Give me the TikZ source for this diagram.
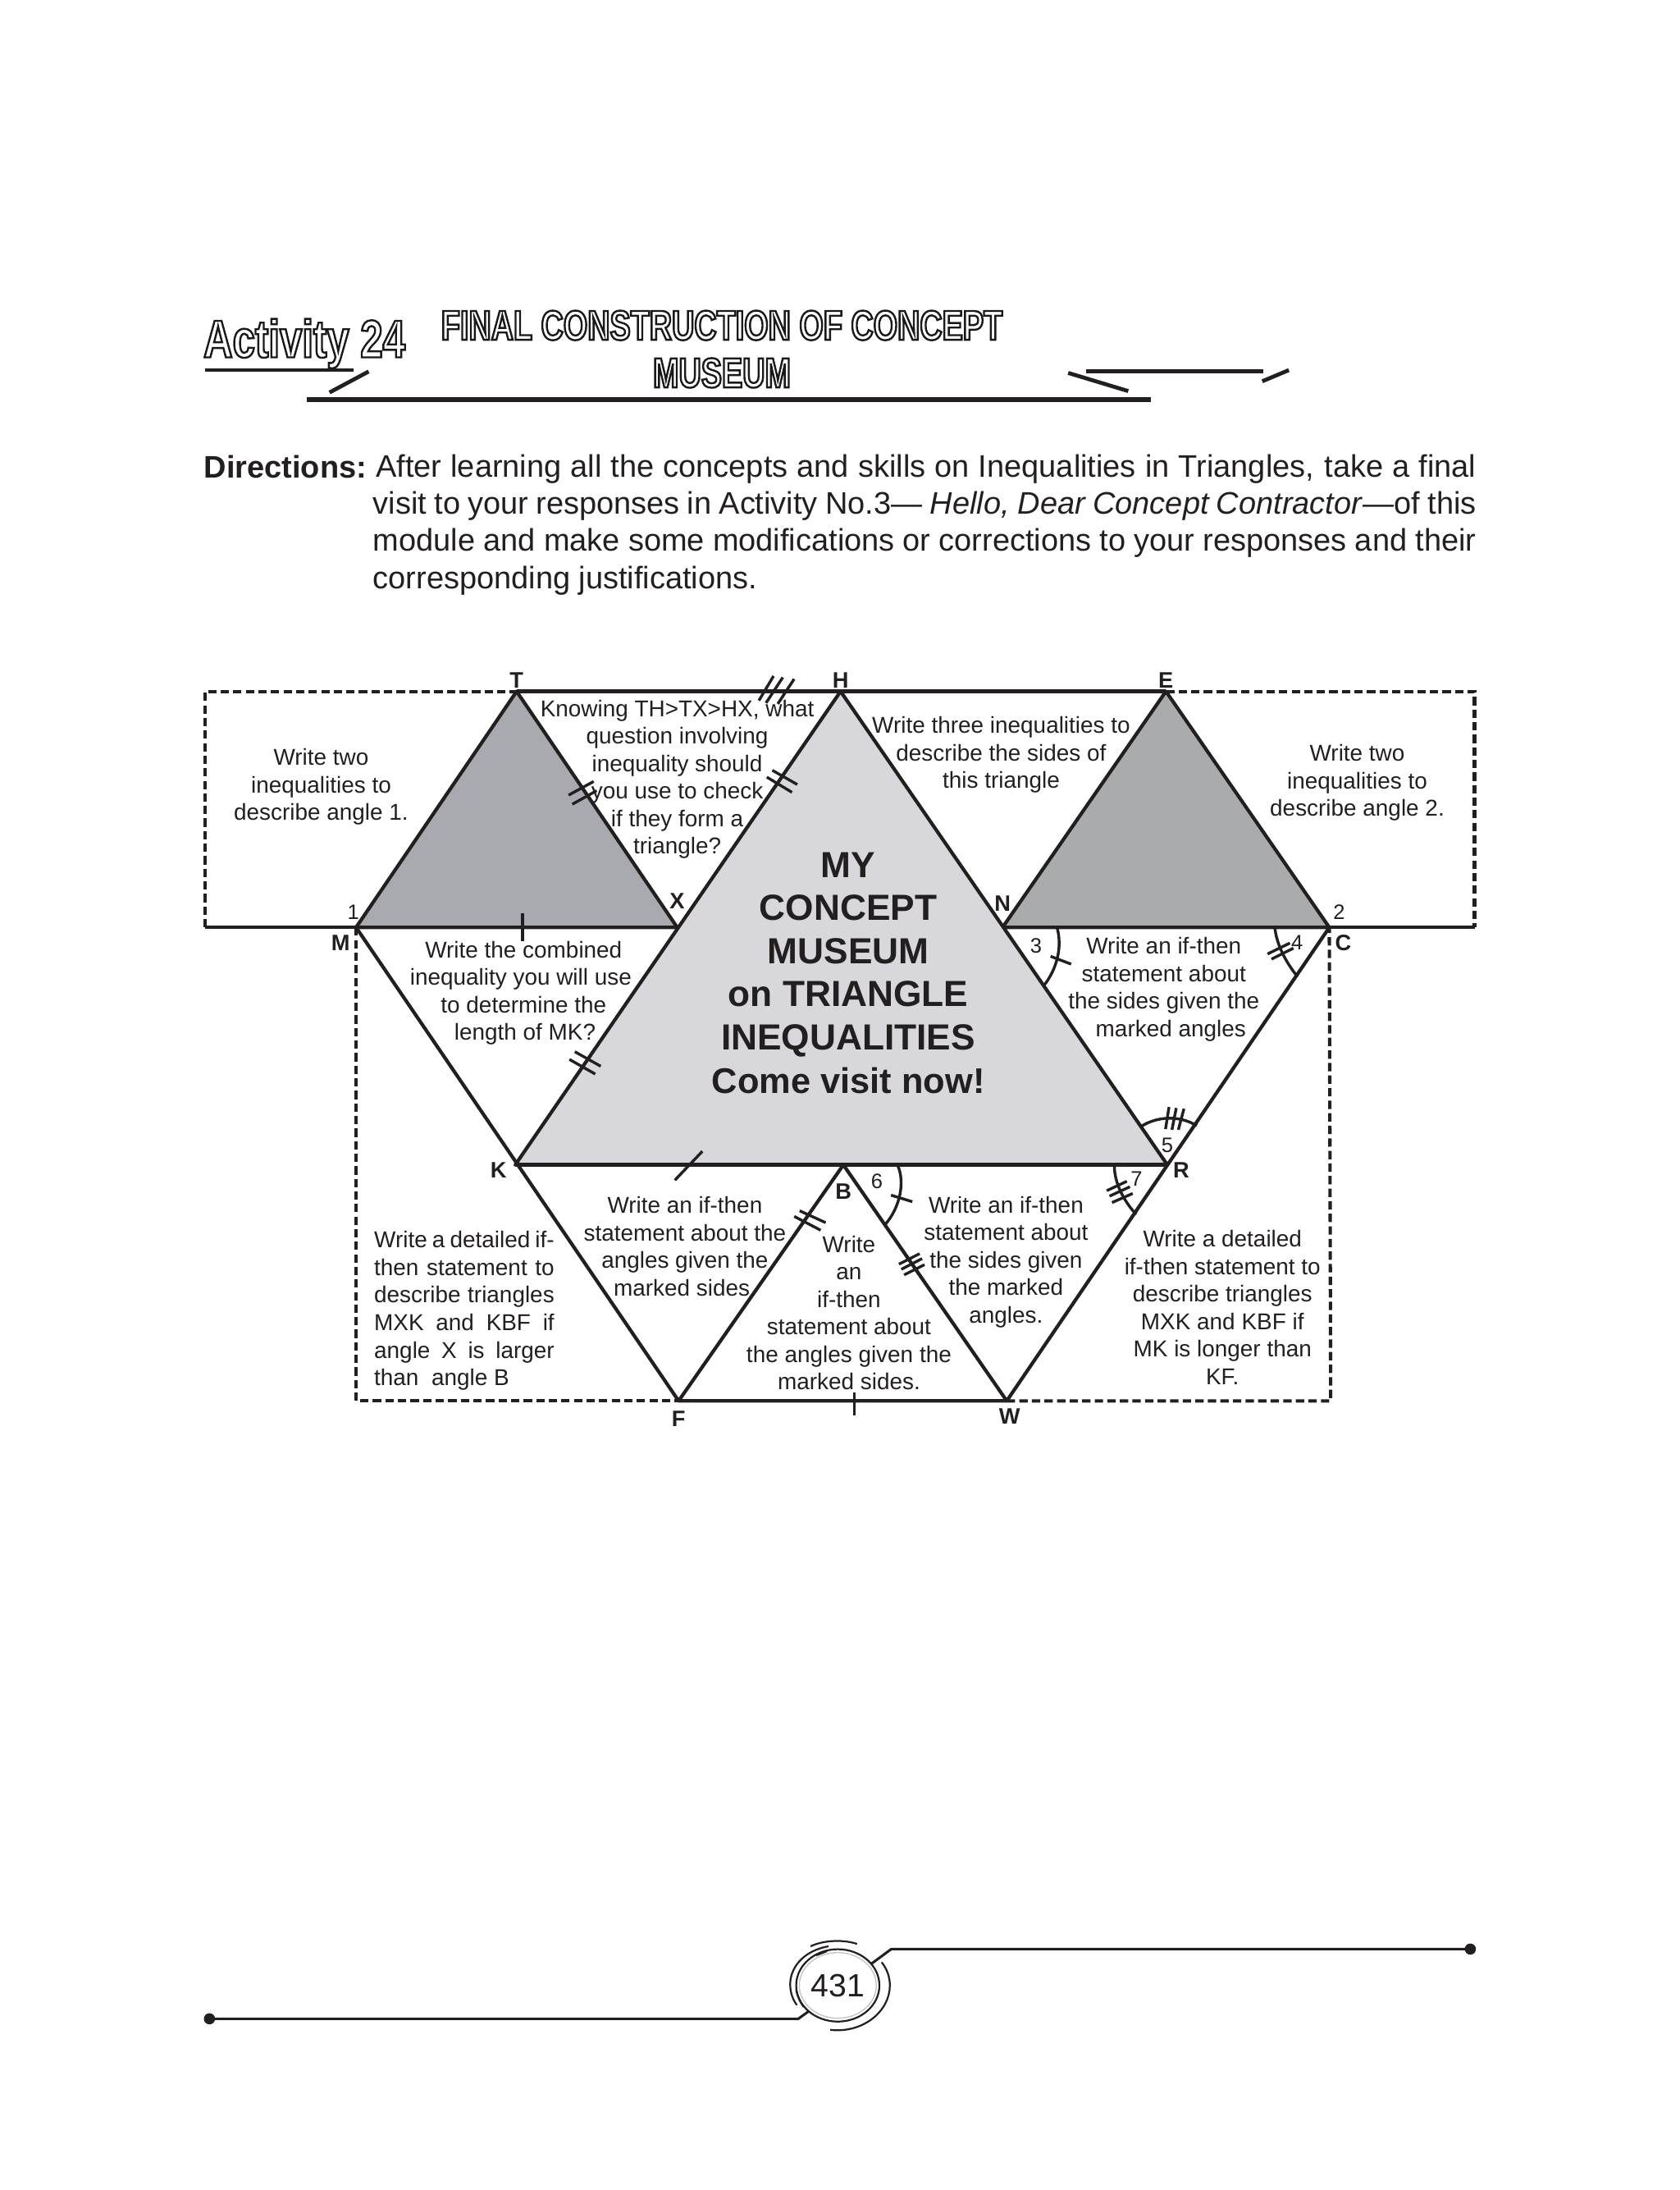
\documentclass[tikz,border=0pt]{standalone}
\usepackage{fontspec}
\usepackage{xcolor}
\setmainfont{Liberation Sans}
\newfontfamily\titlefont[FakeStretch=0.74]{Liberation Sans}
\newfontfamily\activityfont[FakeStretch=0.76]{Liberation Sans}
\usetikzlibrary{calc}
\definecolor{InkBlack}{HTML}{231F20}
\definecolor{LeftGray}{HTML}{A9A9B0}
\definecolor{RightGray}{HTML}{A9ABAD}
\definecolor{CenterGray}{HTML}{D7D7DC}
\definecolor{RingGray}{HTML}{C4C4C4}
\newcommand{\outlinetext}[1]{\special{pdf:code 2 Tr 1.4 w 1 1 1 rg 0.1 0.1 0.1 RG}#1\special{pdf:code 0 Tr 0.1 0.1 0.1 rg}}
\tikzset{
  edge/.style={line width=2.5pt, draw=InkBlack, line join=round},
  frame/.style={line width=2.4pt, draw=InkBlack, dash pattern=on 6pt off 3pt},
  tick/.style={line width=2pt, draw=InkBlack},
  anglemark/.style={line width=2pt, draw=InkBlack},
  rule/.style={line width=3.6pt, draw=InkBlack},
  thinrule/.style={line width=2.8pt, draw=InkBlack},
  ring/.style={line width=1.3pt, draw=InkBlack},
  prompt/.style={text=InkBlack, align=center, inner sep=0pt, font=\fontsize{16.4}{19.7}\selectfont},
  vertex/.style={text=InkBlack, inner sep=0pt, font=\fontsize{16}{18}\selectfont\bfseries},
  number/.style={text=InkBlack, inner sep=0pt, font=\fontsize{15}{18}\selectfont},
  heading/.style={inner sep=0pt, align=center, font=\titlefont\fontsize{30}{34}\selectfont\bfseries}
}
\begin{document}
\begin{tikzpicture}[x=1pt, y=-1pt]
\useasboundingbox[fill=white] (0,0) rectangle (1203,1568);

% vertices
\coordinate (T) at (370,495);
\coordinate (H) at (602,495);
\coordinate (E) at (835,495);
\coordinate (M) at (255,664);
\coordinate (X) at (485,664);
\coordinate (N) at (718,664);
\coordinate (C) at (952,664);
\coordinate (K) at (369,834);
\coordinate (B) at (604,834);
\coordinate (R) at (836,834);
\coordinate (F) at (486,1003);
\coordinate (W) at (721,1003);
\coordinate (frameTL) at (147,495);
\coordinate (frameL) at (147,664);
\coordinate (frameTR) at (1056,495);
\coordinate (frameR) at (1056,664);
\coordinate (frameBL) at (255,1003);
\coordinate (frameBR) at (953,1003);

% heading
\node[heading, font=\activityfont\fontsize{38}{40}\selectfont\bfseries] (activity) at (218,246) {\outlinetext{Activity 24}};
\node[heading] (title) at (517,250) {\outlinetext{FINAL CONSTRUCTION OF CONCEPT}\\\outlinetext{MUSEUM}};
\draw[rule] (220,286) -- (824,286);
\draw[thinrule] (147,265) -- (253,265);
\draw[thinrule] (264,266) -- (236,281);
\draw[thinrule] (778,266) -- (905,266);
\draw[thinrule] (765,267) -- (808,280);
\draw[thinrule] (923,265) -- (904,273);

% directions
\node[anchor=west, inner sep=0pt, text=InkBlack, font=\fontsize{22.3}{26.7}\selectfont\bfseries] (lead) at (146,334) {Directions:};
\node[anchor=north west, inner sep=0pt, text width=790pt, text=InkBlack, font=\fontsize{22.3}{26.7}\selectfont] (directions) at (267,325)
  {\spaceskip=0.15em plus 1em
   \hbox to 790pt{\hspace*{2pt}After learning all the concepts and skills on Inequalities in Triangles, take a final}
   \hbox to 790pt{visit to your responses in Activity No.3\textemdash\ \textit{Hello, Dear Concept Contractor}\textemdash of this}
   \hbox to 790pt{module and make some modifications or corrections to your responses and their}
   \spaceskip=0pt
   \hbox{corresponding justifications.}};

% shaded triangles
\filldraw[edge, fill=LeftGray] (T) -- (M) -- (X) -- cycle;
\filldraw[edge, fill=RightGray] (E) -- (N) -- (C) -- cycle;
\filldraw[edge, fill=CenterGray] (H) -- (K) -- (R) -- cycle;

% dashed frame
\draw[frame] (frameL) -- (frameTL) -- (T);
\draw[frame] (E) -- (frameTR) -- (frameR);
\draw[frame] (M) -- (frameBL) -- (F);
\draw[frame] (W) -- (frameBR) -- (C);

% sides
\draw[edge] (T) -- (E);
\draw[edge] (frameL) -- (X);
\draw[edge] (N) -- (frameR);
\draw[edge] (M) -- (F) -- (W) -- (C);
\draw[edge] (K) -- (R);
\draw[edge] (F) -- (B) -- (W);

% tick marks
\draw[tick] (407.2,569.3) -- (425.2,559.5);
\draw[tick] (409.9,575.8) -- (427.3,566.1);
\draw[tick] (553.1,551.5) -- (571,561.7);
\draw[tick] (549.2,556.4) -- (567.2,567.3);
\draw[tick] (543.5,501.6) -- (554,484);
\draw[tick] (548.6,503.3) -- (560.6,485);
\draw[tick] (557,504) -- (568.7,486.2);
\draw[tick] (374.2,653.8) -- (374.2,674);
\draw[tick] (411.7,753) -- (430.2,763.4);
\draw[tick] (407.8,758.5) -- (426.3,769);
\draw[tick] (483.3,845) -- (503,824.3);
\draw[tick] (568.8,870.9) -- (587.7,880.8);
\draw[tick] (572.7,866.9) -- (591.3,875.4);
\draw[tick] (611.7,997) -- (611.7,1013.2);
\draw[tick] (643.8,905.1) -- (658.6,897.6);
\draw[tick] (645.5,908.8) -- (660.4,901.1);
\draw[tick] (647.5,912.8) -- (662.1,905.5);
\draw[tick] (752.4,684.7) -- (767.1,690.3);
\draw[tick] (907.8,683) -- (923.8,675.2);
\draw[tick] (910.6,686.7) -- (926.3,678.9);
\draw[tick] (837.2,792.6) -- (834.7,808.4);
\draw[tick] (842.4,793.3) -- (839.3,808.9);
\draw[tick] (847.9,793.8) -- (843.9,808.9);
\draw[tick] (638.1,855.7) -- (653.4,860.4);
\draw[tick] (792.6,852.5) -- (807,845.8);
\draw[tick] (794.6,856.4) -- (809.2,849.7);
\draw[tick] (796.4,861) -- (811.2,854.5);

% angle marks
\draw[anglemark] (757,664) .. controls (761,678) and (757,694) .. (747.2,706.1);
\draw[anglemark] (913,664) .. controls (914,675) and (920,688) .. (929.3,699.3);
\draw[anglemark] (817.2,806.5) .. controls (829,799) and (845,798.5) .. (857.1,806);
\draw[anglemark] (643,834.7) .. controls (648,846) and (645,864) .. (633.9,876.8);
\draw[anglemark] (798.1,834.7) .. controls (798,846) and (804,859) .. (813.7,869.5);

% vertex names
\node[vertex] (labelT) at (370,487) {T};
\node[vertex] (labelH) at (602,487) {H};
\node[vertex] (labelE) at (835,487) {E};
\node[vertex] (labelM) at (244,675) {M};
\node[vertex] (labelX) at (485,645) {X};
\node[vertex] (labelN) at (718,647) {N};
\node[vertex] (labelC) at (962,675) {C};
\node[vertex] (labelK) at (357,838) {K};
\node[vertex] (labelR) at (846,838) {R};
\node[vertex] (labelB) at (604,853) {B};
\node[vertex] (labelF) at (486,1016) {F};
\node[vertex] (labelW) at (723,1014) {W};
\node[number] (angle1) at (253,653) {1};
\node[number] (angle2) at (959,653) {2};
\node[number] (angle3) at (742,677) {3};
\node[number] (angle4) at (929,675) {4};
\node[number] (angle5) at (836,820) {5};
\node[number] (angle6) at (628,846) {6};
\node[number] (angle7) at (814,844) {7};

% prompts
\node[prompt] (twoLeft) at (230,563.5) {Write two\\inequalities to\\describe angle 1.};
\node[prompt] (knowing) at (485,558) {Knowing TH>TX>HX, what\\question involving\\inequality should\\you use to check\\if they form a\\triangle?};
\node[prompt] (three) at (717,540.5) {Write three inequalities to\\describe the sides of\\this triangle};
\node[prompt] (twoRight) at (972,560.5) {Write two\\inequalities to\\describe angle 2.};
\node[prompt] (combined) at (375,711) {Write the combined\\\hspace*{-4pt}inequality you will use\\to determine the\hspace*{32pt}\\\hspace*{2pt}length of MK?};
\node[prompt] (sides) at (833.5,708.5) {Write an if-then\\statement about\\the sides given the\\\hspace*{10pt}marked angles};
\node[prompt, text width=129pt, align=justify] (detailLeft) at (332.5,938.5) {Write a detailed if-\linebreak then statement to\linebreak describe triangles\linebreak MXK and KBF if\linebreak angle X is larger\linebreak than\ \ angle B};
\node[prompt] (anglesLeft) at (490.5,892.5) {Write an if-then\\statement about the\\angles given the\\marked sides.};
\node[prompt] (anglesMid) at (608,940) {Write\\an\\if-then\\statement about\\the angles given the\\marked sides.};
\node[prompt] (sidesLow) at (720.5,903.5) {Write an if-then\\statement about\\the sides given\\the marked\\angles.};
\node[prompt] (detailRight) at (875.5,936) {Write a detailed\\if-then statement to\\describe triangles\\MXK and KBF if\\MK is longer than\\KF.};

% museum sign
\node[text=InkBlack, align=center, inner sep=0pt, font=\fontsize{26}{30.9}\selectfont\bfseries] (museum) at (607.5,696.5)
  {MY\\CONCEPT\\MUSEUM\\on TRIANGLE\\INEQUALITIES\\{\fontsize{25.5}{30.9}\selectfont Come visit now!}};

% page number
\coordinate (footA) at (150,1445.4);
\coordinate (footB) at (571.7,1445.4);
\coordinate (footC) at (579.2,1440);
\coordinate (footD) at (624.2,1405.9);
\coordinate (footE) at (638.3,1395.5);
\coordinate (footF) at (1053,1395.5);
\draw[ring, line width=1.8pt] (footA) -- (footB) -- (footC);
\draw[ring, line width=1.8pt] (footD) -- (footE) -- (footF);
\fill[InkBlack] (footA) circle[radius=4];
\fill[InkBlack] (footF) circle[radius=4];
\draw[line width=0.8pt, draw=RingGray] (600,1421.5) ellipse[x radius=27.6, y radius=23.5];
\draw[ring] (600,1421.5) ellipse[x radius=29.8, y radius=25.9];
\draw[ring] (580.5,1393.5) .. controls (590,1389) and (604,1388.5) .. (613.8,1391.8);
\draw[ring] (584.5,1400) -- (592.3,1397);
\draw[ring] (593.3,1393.5) .. controls (574,1397) and (565.9,1410) .. (565.9,1420.6) .. controls (565.9,1427) and (568,1432) .. (570.7,1435.6);
\draw[ring] (570.2,1424.5) .. controls (571,1429) and (573,1433.5) .. (575.6,1437);
\draw[ring] (631.4,1404.9) .. controls (635.5,1410) and (637.3,1416) .. (637.3,1421.5) .. controls (637.3,1440) and (618,1456) .. (594.6,1453.3);
\node[text=InkBlack, inner sep=0pt, font=\fontsize{23}{26}\selectfont] (page) at (600,1422) {431};
\end{tikzpicture}
\end{document}
